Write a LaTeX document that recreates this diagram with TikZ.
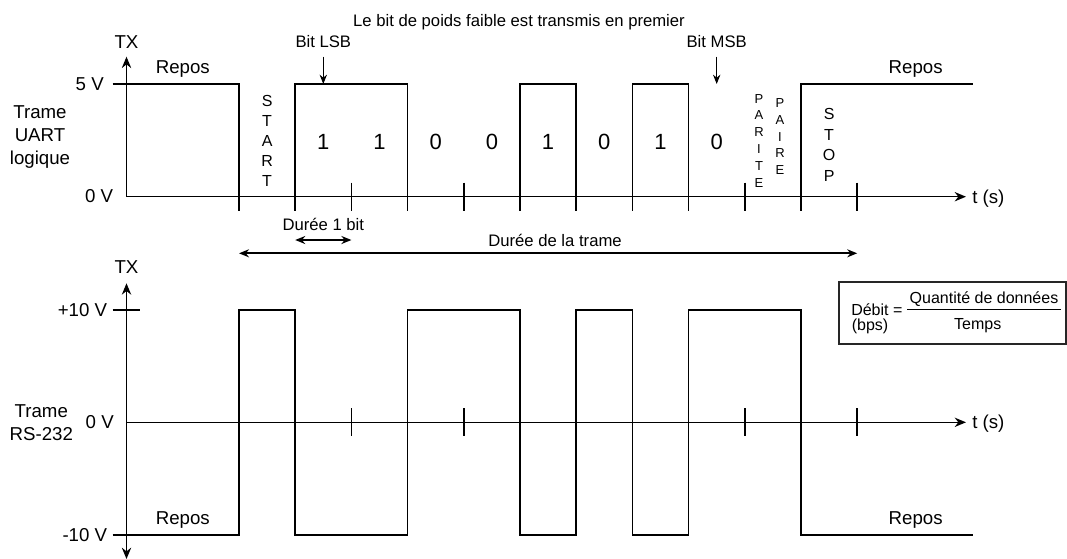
\documentclass[tikz,border=0pt]{standalone}
\usepackage{fontspec}
\setmainfont{Liberation Sans}
\usetikzlibrary{arrows.meta}

\begin{document}
\begin{tikzpicture}[x=0.75pt, y=-0.75pt, font=\fontsize{14}{17}\selectfont,
    sig/.style={line width=1.1pt},
    axe/.style={line width=1.1pt, -{Stealth[length=8.5pt,width=7pt]}},
    duree/.style={line width=1.4pt, {Stealth[length=7.5pt,width=6pt]}-{Stealth[length=7.5pt,width=6pt]}},
    fleche/.style={line width=0.75pt, -{Stealth[length=7pt,width=5.5pt]}},
    txt/.style={anchor=base, inner sep=0pt},
    petit/.style={txt, font=\fontsize{12.5}{15}\selectfont},
    formule/.style={inner sep=0pt, font=\fontsize{12}{14}\selectfont},
    niv/.style={anchor=base east, inner sep=0pt},
    lettres/.style={align=center, inner sep=0pt, font=\fontsize{12}{15}\selectfont}]
  \useasboundingbox (0,0) rectangle (1067,558);

  % trame UART logique
  \coordinate (o1) at (126.5,196.7);
  \coordinate (y1) at (126.5,56.7);
  \coordinate (x1) at (966,196.7);
  \draw[axe] (o1) -- (y1);
  \draw[axe] (o1) -- (x1);
  \draw[sig] (112.6,84) -- (239,84) -- (239,210.7);
  \draw[sig] (295.2,210.7) -- (295.2,84) -- (407.6,84) -- (407.6,210.7);
  \draw[sig] (520,210.7) -- (520,84) -- (576.2,84) -- (576.2,210.7);
  \draw[sig] (632.4,210.7) -- (632.4,84) -- (688.6,84) -- (688.6,210.7);
  \draw[sig] (801,210.7) -- (801,84) -- (972.5,84);
  \foreach \t in {351.4,463.8,744.8,857.2}
    \draw[sig] (\t,182.7) -- (\t,210.7);
  \foreach \v [count=\i] in {1,1,0,0,1,0,1,0}
    \node[font=\fontsize{16.5}{18}\selectfont] (bit\i) at ({239+56.2*\i+28.1},141.7) {\v};

  \node[txt] (tx1) at (126.5,48.3) {TX};
  \node[txt] (repos1) at (182.8,73.5) {Repos};
  \node[txt] (repos2) at (915.7,73.5) {Repos};
  \node[niv] (v5) at (104,90) {5 V};
  \node[niv] (v0) at (113.3,202.7) {0 V};
  \node[anchor=base west, inner sep=0pt] (t1) at (972,203.3) {t (s)};
  \node[align=center, font=\fontsize{14}{17.5}\selectfont] (uart) at (40,137) {Trame\\UART\\logique};

  \node[lettres] (start) at (267.1,140.8) {S\\T\\A\\R\\T};
  \node[lettres, font=\fontsize{12}{15.5}\selectfont] (stop) at (829.1,145) {S\\T\\O\\P};
  \node[lettres, font=\fontsize{9.75}{12.6}\selectfont] (parite) at (759,140.7) {P\\A\\R\\I\\T\\E};
  \node[lettres, font=\fontsize{9.75}{12.6}\selectfont] (paire) at (780,136.7) {P\\A\\I\\R\\E};

  \node[petit] (note) at (519,26) {Le bit de poids faible est transmis en premier};
  \node[petit] (lsb) at (323.3,47.7) {Bit LSB};
  \node[petit] (msb) at (716.7,47.7) {Bit MSB};
  \coordinate (lsbh) at (323.3,56.7);
  \coordinate (lsbb) at (323.3,84);
  \coordinate (msbh) at (716.7,56.7);
  \coordinate (msbb) at (716.7,84);
  \draw[fleche] (lsbh) -- (lsbb);
  \draw[fleche] (msbh) -- (msbb);

  % durees
  \node[petit] (d1bit) at (323.3,230) {Durée 1 bit};
  \coordinate (b1g) at (295.2,240);
  \coordinate (b1d) at (351.4,240);
  \draw[duree] (b1g) -- (b1d);
  \node[petit] (dtrame) at (555,246.7) {Durée de la trame};
  \coordinate (trg) at (239,253.3);
  \coordinate (trd) at (857.2,253.3);
  \draw[duree] (trg) -- (trd);

  % trame RS-232
  \coordinate (y2h) at (126.5,283.3);
  \coordinate (y2b) at (126.5,559);
  \coordinate (o2) at (126.5,422.3);
  \coordinate (x2) at (966,422.3);
  \draw[axe, {Stealth[length=8.5pt,width=7pt]}-{Stealth[length=8.5pt,width=7pt]}] (y2b) -- (y2h);
  \draw[axe] (o2) -- (x2);
  \draw[sig] (112.6,310) -- (140,310);
  \draw[sig] (112.6,535) -- (239,535) -- (239,310) -- (295.2,310) -- (295.2,535)
    -- (407.6,535) -- (407.6,310) -- (520,310) -- (520,535) -- (576.2,535)
    -- (576.2,310) -- (632.4,310) -- (632.4,535) -- (688.6,535) -- (688.6,310)
    -- (801,310) -- (801,535) -- (972.5,535);
  \foreach \t in {351.4,463.8,744.8,857.2}
    \draw[sig] (\t,408.3) -- (\t,436.3);

  \node[txt] (tx2) at (126.5,273.3) {TX};
  \node[txt] (repos3) at (182.8,524.3) {Repos};
  \node[txt] (repos4) at (915.7,524.3) {Repos};
  \node[niv] (vp10) at (107.4,316) {+10 V};
  \node[niv] (vm10) at (107.4,541.7) {-10 V};
  \node[niv] (v0b) at (114,428.3) {0 V};
  \node[anchor=base west, inner sep=0pt] (t2) at (972,428.9) {t (s)};
  \node[align=center, font=\fontsize{14}{17.5}\selectfont] (rs) at (41.3,422.5) {Trame\\RS-232};

  % debit
  \draw[line width=1.5pt, black!85] (838.5,281.7) rectangle (1065.5,344);
  \node[formule, anchor=base west] (debit) at (851,315.7) {Débit =};
  \node[formule, anchor=base west] (bps) at (851.5,330.7) {(bps)};
  \node[formule, anchor=base] (qte) at (984,303.3) {Quantité de données};
  \node[formule, anchor=base] (temps) at (977.7,329.3) {Temps};
  \draw[line width=0.9pt] (907.3,309.3) -- (1061,309.3);
\end{tikzpicture}
\end{document}
